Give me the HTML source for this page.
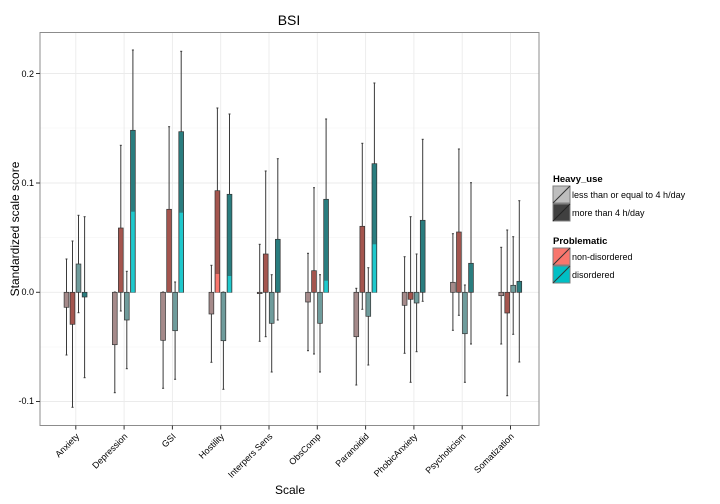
<!DOCTYPE html><html><head><style>body{margin:0;background:#fff}svg{display:block;font-family:"Liberation Sans",sans-serif}</style></head><body>
<svg width="720" height="504" viewBox="0 0 720 504">
<rect width="720" height="504" fill="#fff"/>
<g stroke="#f2f2f2" stroke-width="0.6">
<line x1="40" x2="539" y1="128" y2="128"/><line x1="40" x2="539" y1="237.5" y2="237.5"/><line x1="40" x2="539" y1="347" y2="347"/>
</g>
<g stroke="#ebebeb" stroke-width="0.9" id="grid"></g>
<g id="bars"></g>
<rect x="40" y="32.5" width="499" height="393" fill="none" stroke="#8c8c8c" stroke-width="1"/>
<g font-size="9" fill="#000" text-anchor="end">
<text x="34" y="77">0.2</text><text x="34" y="186">0.1</text><text x="34" y="295">0.0</text><text x="34" y="404">-0.1</text>
</g>
<g stroke="#333" stroke-width="1"><line x1="36" x2="40" y1="73.5" y2="73.5"/><line x1="36" x2="40" y1="183" y2="183"/><line x1="36" x2="40" y1="292.3" y2="292.3"/><line x1="36" x2="40" y1="401.5" y2="401.5"/></g>
<g id="xl" font-size="9" text-anchor="end"></g>
<text x="289" y="25" font-size="14" text-anchor="middle">BSI</text>
<text x="290" y="494" font-size="12" text-anchor="middle">Scale</text>
<text transform="translate(19,229) rotate(-90)" font-size="12" text-anchor="middle">Standardized scale score</text>
<g font-size="9">
<text x="553" y="182" font-weight="bold" font-size="9.5">Heavy_use</text>
<rect x="553" y="186" width="17" height="17" fill="#bebebe" stroke="#7f7f7f"/><line x1="553" y1="203" x2="570" y2="186" stroke="#333"/>
<rect x="553" y="204" width="17" height="17" fill="#404040" stroke="#7f7f7f"/><line x1="553" y1="221" x2="570" y2="204" stroke="#222"/>
<text x="572" y="198">less than or equal to 4 h/day</text><text x="572" y="216">more than 4 h/day</text>
<text x="553" y="244" font-weight="bold" font-size="9.5">Problematic</text>
<rect x="553" y="248" width="17" height="17" fill="#f8766d" stroke="#7f7f7f"/><line x1="553" y1="265" x2="570" y2="248" stroke="#333"/>
<rect x="553" y="266" width="17" height="17" fill="#00bfc4" stroke="#7f7f7f"/><line x1="553" y1="283" x2="570" y2="266" stroke="#333"/>
<text x="572" y="260">non-disordered</text><text x="572" y="278">disordered</text>
</g>
<script>
var ns="http://www.w3.org/2000/svg";
function el(p,t,a,txt){var e=document.createElementNS(ns,t);for(var k in a)e.setAttribute(k,a[k]);if(txt)e.textContent=txt;p.appendChild(e);return e;}
var names=["Anxiety","Depression","GSI","Hostility","Interpers Sens","ObsComp","Paranoidid","PhobicAnxiety","Psychoticism","Somatization"];
// [end, errTop, errBot, inner]
var D=[
[[307.3,259,355],[324.3,241,407.3],[264,215.3,312.7],[297,216.7,377.7]],
[[344.7,292,392.7],[228,145.3,311],[320,271.3,368.7],[130.3,50,292,211.7]],
[[340.3,292,388.3],[209.3,126.7,292],[330.7,282,379.3],[131.7,51.3,292,212.7]],
[[314,265.3,362.3],[190.7,108,292,274],[340.7,292,389.3],[194.3,114,292,276]],
[[293.6,244.3,341.3],[254,171,336.7],[323.3,274.7,372],[239.3,158.7,320]],
[[302,253.3,350.7],[270.7,187.7,354],[323.3,274.7,372],[199.3,119,292,280.7]],
[[336.7,288.3,385],[226.3,143.3,309.3],[316.3,267.7,365],[163.7,83,292,244.3]],
[[305.3,256.7,353.3],[299.3,216.7,382.3],[303,254,351.7],[220.3,139.3,301.3]],
[[282.3,233.7,330.3],[232,149,315.3],[333.7,285,382.3],[263.3,182.7,344]],
[[295.7,247.3,344],[313,230,395.7],[285.3,236.7,334.3],[281.3,200.7,362]]];
var fills=["#a58a8a","#a4554e","#6f9c9c","#2a7d7f"],inn=["#f8a19a","#f8766d","#7fd6d8","#1fc8cc"];
var off=[-9.3,-3.3,2.7,8.8],Z=292.3;
var g=document.getElementById("grid"),b=document.getElementById("bars"),xl=document.getElementById("xl");
for(var i=0;i<10;i++){var c=75.8+48.3*i;
el(g,"line",{x1:c,x2:c,y1:33,y2:425});
}
[73.5,183,292.3,401.5].forEach(function(y){el(g,"line",{x1:40,x2:539,y1:y,y2:y});});
for(var i=0;i<10;i++){var c=75.8+48.3*i;
el(document.querySelector("svg"),"line",{x1:c,x2:c,y1:425.5,y2:429.5,stroke:"#333"});
var t=el(xl,"text",{transform:"translate("+(c+4)+",437) rotate(-45)"},names[i]);
for(var j=0;j<4;j++){var d=D[i][j],x=c+off[j];
var y0=Math.min(d[0],Z),h=Math.abs(d[0]-Z);
el(b,"line",{x1:x,x2:x,y1:d[1],y2:d[2],stroke:"#3a3a3a","stroke-width":1});
el(b,"line",{x1:x-1,x2:x+1,y1:d[1],y2:d[1],stroke:"#3a3a3a"});
el(b,"line",{x1:x-1,x2:x+1,y1:d[2],y2:d[2],stroke:"#3a3a3a"});
el(b,"rect",{x:x-2.4,y:y0,width:4.8,height:Math.max(h,1),fill:fills[j],stroke:"#333","stroke-width":0.7});
if(d[3])el(b,"rect",{x:x-1.8,y:d[3],width:3.6,height:Z-d[3],fill:inn[j]});
}}
</script>
</svg></body></html>
